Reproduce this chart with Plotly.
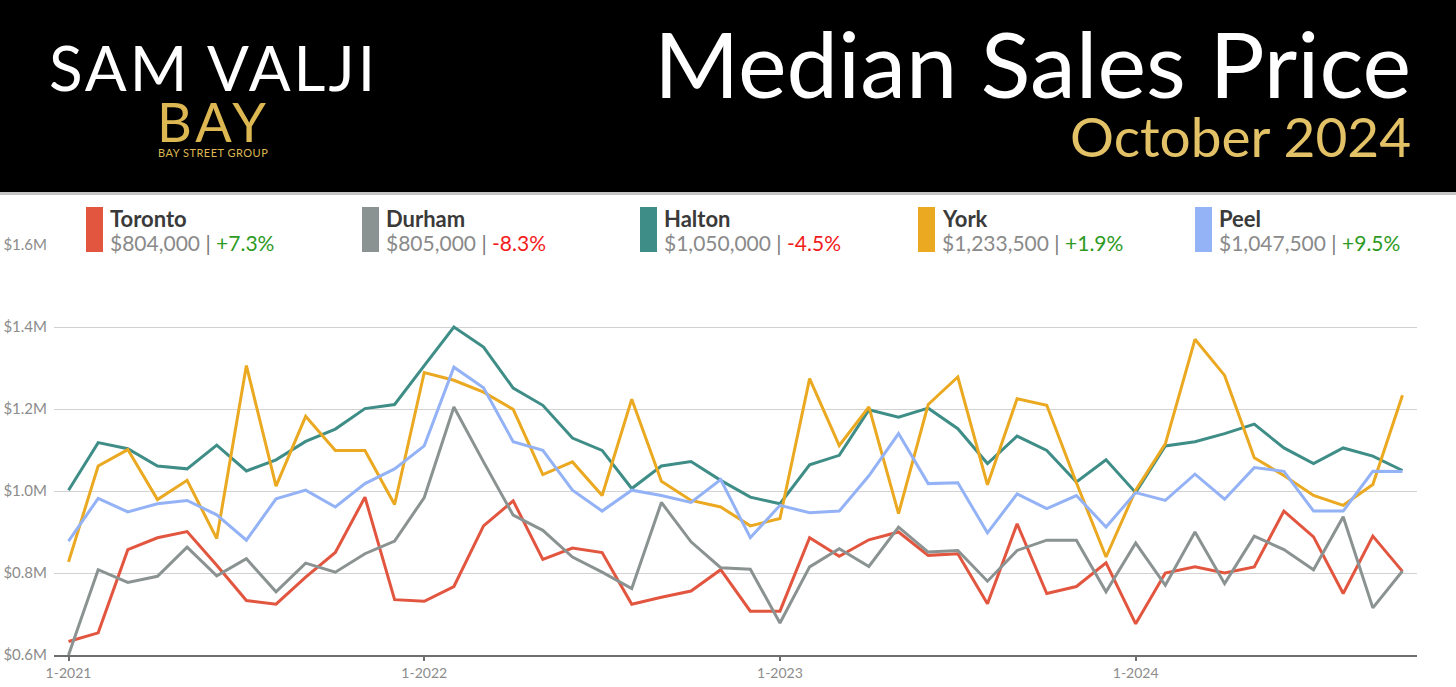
import plotly.graph_objects as go

# Median sales price by region, in thousands of dollars, Jan 2021 - Oct 2024
toronto = [633, 654, 857, 886, 901, 819, 733, 724, 790, 850, 985, 735,
           731, 767, 915, 976, 833, 861, 850, 724, 741, 756, 808, 707,
           707, 886, 841, 881, 900, 843, 847, 725, 920, 750, 767, 825,
           676, 800, 815, 800, 815, 951, 888, 750, 890, 804]
durham = [600, 808, 777, 792, 863, 793, 835, 754, 824, 802, 847, 878,
          984, 1205, 1071, 941, 904, 839, 802, 762, 972, 876, 813, 809,
          678, 815, 859, 816, 912, 851, 855, 780, 855, 880, 880, 754,
          873, 770, 900, 774, 890, 857, 808, 937, 715, 805]
halton = [1002, 1118, 1103, 1061, 1054, 1112, 1049, 1076, 1121, 1151, 1201, 1211,
          1306, 1400, 1351, 1251, 1209, 1129, 1099, 1006, 1061, 1072, 1026, 985,
          969, 1064, 1087, 1198, 1180, 1202, 1152, 1067, 1134, 1099, 1022, 1076,
          996, 1110, 1120, 1140, 1163, 1105, 1067, 1105, 1085, 1050]
york = [827, 1061, 1101, 979, 1026, 884, 1306, 1012, 1182, 1099, 1099, 967,
        1289, 1270, 1241, 1199, 1040, 1071, 989, 1224, 1024, 977, 961, 915,
        933, 1274, 1111, 1205, 945, 1211, 1278, 1015, 1225, 1209, 1020, 839,
        1002, 1115, 1370, 1282, 1081, 1038, 989, 965, 1016, 1233.5]
peel = [878, 982, 949, 969, 977, 942, 880, 981, 1002, 961, 1018, 1054,
        1110, 1302, 1252, 1120, 1099, 1002, 951, 1002, 989, 972, 1028, 886,
        965, 947, 951, 1037, 1140, 1018, 1020, 898, 993, 957, 989, 912,
        996, 977, 1041, 980, 1057, 1048, 951, 951, 1048, 1047.5]

months = [f"{m}-{y}" for y in range(2021, 2025) for m in range(1, 13)][:46]

regions = ["Toronto", "Durham", "Halton", "York", "Peel"]
series = [toronto, durham, halton, york, peel]
colors = ["#E2553F", "#8B9392", "#3F8D87", "#EAA920", "#94B2F6"]
latest = ["$804,000", "$805,000", "$1,050,000", "$1,233,500", "$1,047,500"]
changes = ["+7.3%", "-8.3%", "-4.5%", "+1.9%", "+9.5%"]

y_ticks = [600, 800, 1000, 1200, 1400, 1600]
y_labels = ["$0.6M", "$0.8M", "$1.0M", "$1.2M", "$1.4M", "$1.6M"]
x_ticks = ["1-2021", "1-2022", "1-2023", "1-2024"]

W, H = 1456, 687
L, R, T, B = 54, 39, 245, 32
PW, PH = W - L - R, H - T - B
FONT = "Lato"
GOLD = "#DDB752"


def px(x):
    return (x - L) / PW


def py(y):
    return (H - B - y) / PH


def spaced(text, gap):
    return f"<span style='letter-spacing:{gap}px'>{text}</span>"


fig = go.Figure()
for name, vals, col in zip(regions, series, colors):
    fig.add_trace(go.Scatter(x=months, y=vals, mode="lines", name=name,
                             line=dict(color=col, width=3), hoverinfo="skip"))

shapes = [
    # black header band and its shadow
    dict(type="rect", xref="paper", yref="paper", x0=px(0), x1=px(W), y0=py(192), y1=py(0),
         fillcolor="black", line_width=0, layer="above"),
    dict(type="rect", xref="paper", yref="paper", x0=px(0), x1=px(W), y0=py(195), y1=py(192),
         fillcolor="#c4c4c4", line_width=0, layer="above"),
    # white band behind legend (hides top gridline)
    dict(type="rect", xref="paper", yref="paper", x0=px(70), x1=px(1404), y0=py(262), y1=py(200),
         fillcolor="white", line_width=0, layer="above"),
]

annotations = [
    dict(text=spaced("SAM VALJI", 3), x=px(213), y=py(67), font=dict(size=62, color="white", family=FONT)),
    dict(text=spaced("BAY", 4), x=px(213), y=py(122), font=dict(size=54, color=GOLD, family=FONT)),
    dict(text=spaced("BAY STREET GROUP", 0.5), x=px(213), y=py(152), font=dict(size=11, color=GOLD, family=FONT)),
    dict(text="Median Sales Price", x=px(1413), y=py(62), xanchor="right",
         font=dict(size=92, color="white", family=FONT)),
    dict(text="October 2024", x=px(1413), y=py(136), xanchor="right",
         font=dict(size=55, color="#E3C267", family=FONT)),
]

legend_x = [86, 362, 640, 918, 1195]
for lx, name, col, val, chg in zip(legend_x, regions, colors, latest, changes):
    shapes.append(dict(type="rect", xref="paper", yref="paper", x0=px(lx), x1=px(lx + 17),
                       y0=py(252), y1=py(207), fillcolor=col, line_width=0, layer="above"))
    chg_col = "#2E9A1F" if chg.startswith("+") else "#F21B1B"
    annotations.append(dict(text=f"<b>{name}</b>", x=px(lx + 22), y=py(219), xanchor="left",
                            font=dict(size=22, color="#3a3a3a", family=FONT)))
    annotations.append(dict(
        text=f"{val} <span style='color:#777'>|</span> <span style='color:{chg_col}'>{chg}</span>",
        x=px(lx + 22), y=py(242), xanchor="left",
        font=dict(size=21, color="#8a8a8a", family=FONT)))

for a in annotations:
    a.update(xref="paper", yref="paper", showarrow=False, yanchor="middle")
    a.setdefault("xanchor", "center")

fig.update_layout(
    width=W, height=H,
    margin=dict(l=L, r=R, t=T, b=B, autoexpand=False),
    paper_bgcolor="white", plot_bgcolor="white",
    showlegend=False,
    font=dict(family=FONT),
    shapes=shapes,
    annotations=annotations,
    xaxis=dict(
        type="category", range=[-0.49, 45.49], automargin=False,
        tickvals=x_ticks, ticktext=x_ticks,
        showgrid=False, showline=True, linecolor="#6e6e6e", linewidth=2,
        ticks="outside", ticklen=4, tickwidth=2, tickcolor="#6e6e6e",
        tickfont=dict(size=14, color="#8c8c8c"),
    ),
    yaxis=dict(
        range=[600, 1600], tickvals=y_ticks, ticktext=y_labels, automargin=False,
        showgrid=True, gridcolor="#d2d2d2", gridwidth=1, zeroline=False,
        showline=False, ticks="", ticklabelstandoff=6,
        tickfont=dict(size=15, color="#8c8c8c"),
    ),
)

# the page body has a default 8px margin; remove it so the figure sits at the window corner
fig.write_html("out.html", config={"displayModeBar": False},
               post_script="document.body.style.margin = '0';")
